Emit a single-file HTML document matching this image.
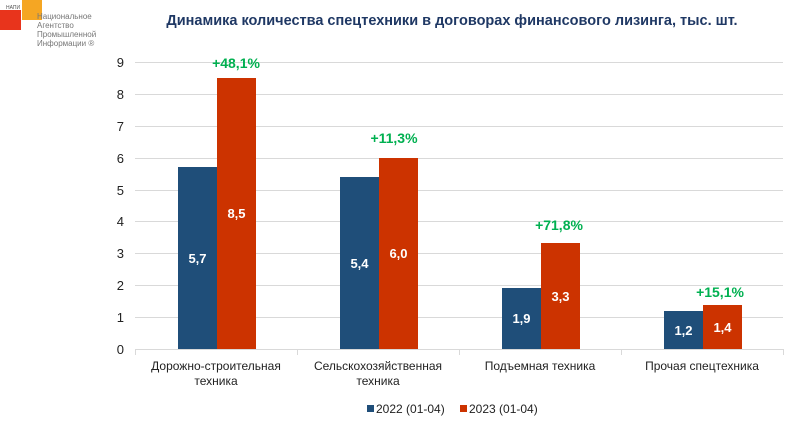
<!DOCTYPE html>
<html><head><meta charset="utf-8"><style>
body{margin:0;background:#fff;}
svg text{font-family:"Liberation Sans",Arial,sans-serif;}
</style></head><body>
<svg width="799" height="424" xmlns="http://www.w3.org/2000/svg">
<rect width="799" height="424" fill="#fff"/>
<!-- logo -->
<rect x="0" y="10" width="21" height="20" fill="#e8341c"/>
<rect x="22" y="0" width="20" height="20" fill="#f5a623"/>
<text x="6" y="9" font-size="5" fill="#555">НАПИ</text>
<text x="37" y="19" font-size="8" fill="#777">Национальное</text>
<text x="37" y="28" font-size="8" fill="#777">Агентство</text>
<text x="37" y="37" font-size="8" fill="#777">Промышленной</text>
<text x="37" y="46" font-size="8" fill="#777">Информации ®</text>
<text x="452" y="25" font-size="14.5" font-weight="bold" fill="#1f3864" text-anchor="middle">Динамика количества спецтехники в договорах финансового лизинга, тыс. шт.</text>
<g stroke="#d9d9d9" stroke-width="1">
<line x1="135" x2="783" y1="62.5" y2="62.5"/><line x1="135" x2="783" y1="94.5" y2="94.5"/>
<line x1="135" x2="783" y1="126.5" y2="126.5"/><line x1="135" x2="783" y1="158.5" y2="158.5"/>
<line x1="135" x2="783" y1="190.5" y2="190.5"/><line x1="135" x2="783" y1="221.5" y2="221.5"/>
<line x1="135" x2="783" y1="253.5" y2="253.5"/><line x1="135" x2="783" y1="285.5" y2="285.5"/>
<line x1="135" x2="783" y1="317.5" y2="317.5"/><line x1="135" x2="783" y1="349.5" y2="349.5"/>
<line x1="135.5" x2="135.5" y1="349" y2="355"/><line x1="297.5" x2="297.5" y1="349" y2="355"/>
<line x1="459.5" x2="459.5" y1="349" y2="355"/><line x1="621.5" x2="621.5" y1="349" y2="355"/>
<line x1="783.5" x2="783.5" y1="349" y2="355"/>
</g>
<g font-size="13" fill="#222" text-anchor="end">
<text x="124" y="67">9</text><text x="124" y="99">8</text><text x="124" y="131">7</text>
<text x="124" y="163">6</text><text x="124" y="195">5</text><text x="124" y="226">4</text>
<text x="124" y="258">3</text><text x="124" y="290">2</text><text x="124" y="322">1</text>
<text x="124" y="354">0</text>
</g>
<g>
<rect x="178" y="167" width="39" height="182" fill="#1f4e79"/>
<rect x="217" y="78" width="39" height="271" fill="#cc3300"/>
<rect x="340" y="177" width="39" height="172" fill="#1f4e79"/>
<rect x="379" y="158" width="39" height="191" fill="#cc3300"/>
<rect x="502" y="288" width="39" height="61" fill="#1f4e79"/>
<rect x="541" y="243" width="39" height="106" fill="#cc3300"/>
<rect x="664" y="311" width="39" height="38" fill="#1f4e79"/>
<rect x="703" y="305" width="39" height="44" fill="#cc3300"/>
</g>
<g font-size="13" font-weight="bold" fill="#fff" text-anchor="middle">
<text x="197.5" y="263">5,7</text><text x="236.5" y="218">8,5</text>
<text x="359.5" y="268">5,4</text><text x="398.5" y="258">6,0</text>
<text x="521.5" y="323">1,9</text><text x="560.5" y="301">3,3</text>
<text x="683.5" y="335">1,2</text><text x="722.5" y="332">1,4</text>
</g>
<g font-size="14" font-weight="bold" fill="#00b050" text-anchor="middle">
<text x="236" y="68">+48,1%</text><text x="394" y="143">+11,3%</text>
<text x="559" y="230">+71,8%</text><text x="720" y="297">+15,1%</text>
</g>
<g font-size="12" fill="#222" text-anchor="middle">
<text x="216" y="370">Дорожно-строительная</text><text x="216" y="385">техника</text>
<text x="378" y="370">Сельскохозяйственная</text><text x="378" y="385">техника</text>
<text x="540" y="370">Подъемная техника</text>
<text x="702" y="370">Прочая спецтехника</text>
</g>
<rect x="367" y="405" width="7" height="7" fill="#1f4e79"/>
<text x="376" y="413" font-size="12" fill="#222">2022 (01-04)</text>
<rect x="460" y="405" width="7" height="7" fill="#cc3300"/>
<text x="469" y="413" font-size="12" fill="#222">2023 (01-04)</text>
</svg>
</body></html>
